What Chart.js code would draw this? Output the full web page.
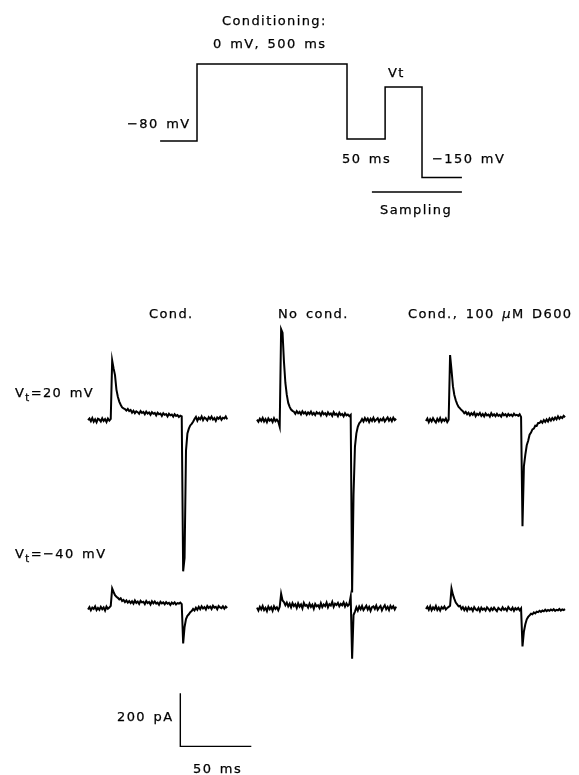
<!DOCTYPE html>
<html>
<head>
<meta charset="utf-8">
<script src="https://cdn.jsdelivr.net/npm/chart.js@4.4.0/dist/chart.umd.min.js"></script>
<style>
  body { margin: 0; background: #fff; }
  #wrap { position: relative; width: 579px; height: 775px; }
  #chart { position: absolute; left: 0; top: 0; }
  .lbl {
    position: absolute;
    font-family: "DejaVu Sans", sans-serif;
    font-size: 13px;
    letter-spacing: 1.4px;
    word-spacing: 2px;
    line-height: 1;
    color: #000;
    -webkit-text-stroke: 0.25px #000;
    white-space: nowrap;
    transform: translateY(-50%);
  }
  .lbl sub { font-size: 10px; vertical-align: -4px; line-height: 0; }
</style>
</head>
<body>
<div id="wrap">
  <canvas id="chart" width="579" height="775"></canvas>
</div>
<script>
// protocol (schematic, ms / mV)
const protoTime = [-123, 0, 0, 500, 500, 627, 627, 750, 750, 883];
const protoVolt = [-80, -80, 0, 0, -78, -78, -24, -24, -118, -118];
const samplingTime = [583, 883];
const samplingLevel = [-133, -133];

// current traces, sampled every 1 ms (pA)
const times = [];
for (let t = 0; t <= 98; t++) times.push(t);

const condTop = [
  0, 6, -4, 8, -6, 3, -8, 5, 2, -5,
  7, -3, 4, -7, 6, -2, 5, 225, 195, 170,
  115, 88, 70, 58, 48, 44, 42, 36, 42, 34,
  38, 28, 35, 26, 33, 30, 24, 34, 27, 31,
  22, 32, 25, 29, 20, 30, 24, 27, 18, 28,
  22, 25, 16, 26, 20, 23, 14, 24, 18, 21,
  13, 22, 16, 19, 12, 17, 14, -570, -520, -115,
  -50, -32, -20, -14, -6, 4, 12, -2, 9, 3,
  14, 0, 10, 6, -1, 11, 4, 13, 2, 8,
  -3, 10, 5, 12, 1, 9, 6, 14, 3
];
const noCondTop = [
  2, -6, 5, -3, 8, -5, 4, -8, 6, -2,
  3, -7, 7, -4, 2, -6, -25, 343, 330, 220,
  140, 95, 65, 50, 40, 35, 32, 24, 34, 26,
  31, 22, 33, 25, 30, 20, 29, 23, 32, 21,
  27, 19, 30, 24, 28, 18, 31, 22, 26, 17,
  29, 21, 25, 16, 30, 20, 24, 15, 28, 19,
  23, 14, 26, 18, 21, 15, 20, -650, -280, -100,
  -50, -25, -12, -6, 4, -5, 8, -2, 6, -7,
  5, -3, 9, -4, 2, 7, -6, 4, -1, 8,
  -5, 3, 10, -2, 6, -4, 9, 0, 5
];
const d600Top = [
  -3, 6, -8, 4, -5, 7, -2, -9, 5, -4,
  8, -6, 3, -3, 6, -7, 2, 245, 190, 128,
  95, 75, 60, 50, 44, 38, 34, 26, 31, 22,
  28, 18, 26, 20, 29, 15, 24, 19, 27, 16,
  23, 14, 25, 18, 21, 13, 26, 17, 22, 15,
  24, 16, 20, 13, 25, 18, 22, 14, 23, 17,
  21, 15, 24, 18, 20, 16, 22, 12, -400, -173,
  -130, -95, -78, -55, -47, -35, -32, -21, -22, -11,
  -11, -4, -10, 0, -7, 3, -5, 6, -2, 8,
  1, 10, 3, 14, 5, 12, 8, 16, 11
];
const condBot = [
  -4, 5, -7, 3, -2, 8, -6, 2, -5, 6,
  -3, 4, -8, 7, -1, 3, 10, 75, 62, 50,
  44, 40, 34, 38, 28, 32, 24, 30, 22, 28,
  20, 27, 18, 30, 21, 26, 17, 29, 23, 25,
  16, 28, 20, 24, 15, 27, 19, 26, 18, 22,
  14, 25, 19, 23, 16, 24, 18, 21, 13, 22,
  17, 23, 15, 20, 18, 22, 16, -132, -70, -40,
  -28, -22, -14, -10, -2, -8, 3, -5, 6, -3,
  8, 0, 5, -4, 9, 2, 7, -2, 10, 3,
  6, -3, 9, 4, 1, 8, -1, 7, 2
];
const noCondBot = [
  3, -8, 6, -4, 9, -6, 2, -10, 7, -3,
  5, -9, 8, -2, 4, -7, 6, 55, 30, 24,
  12, 22, 8, 18, 4, 20, 9, 16, 2, 19,
  7, 15, 0, 21, 10, 13, 3, 18, 6, 14,
  -1, 17, 8, 12, 2, 20, 5, 15, 9, 22,
  4, 16, 11, 25, 6, 18, 13, 21, 8, 17,
  12, 23, 7, 19, 10, 16, 45, -190, -25, -12,
  4, -8, 7, -3, 9, -6, 2, 10, -4, 6,
  -9, 5, 8, -2, 11, -5, 3, 9, -7, 4,
  12, -3, 6, -6, 10, 1, 8, -4, 7
];
const d600Bot = [
  -2, 6, -5, 8, -7, 4, -3, 9, -6, 3,
  -8, 5, -1, 7, -4, 2, 6, 10, 75, 52,
  36, 22, 15, 8, 10, -2, 5, -6, 3, -8,
  4, -4, 1, -9, 5, -3, -7, 2, -10, 3,
  -5, 0, -8, 4, -2, -9, 1, -6, 3, -4,
  -10, 2, -3, -7, 4, -5, 0, -8, 5, -2,
  -6, 3, -9, 1, -4, 2, -7, 0, -143, -87,
  -60, -41, -32, -26, -20, -22, -15, -19, -12, -14,
  -9, -13, -8, -11, -5, -10, -6, -9, -4, -8,
  -3, -9, -5, -7, -2, -8, -4, -6, -3
];

// scale bar: 50 ms, 200 pA
const scaleBarTime = [65, 65, 115];
const scaleBarCurrent = [-1030, -1230, -1230];

// where each trace sits in the figure (ms, pA)
const colShift = [0, 119, 238];
const rowShift = [0, -710];

function pts(xs, ys, dx = 0, dy = 0) {
  return xs.map((x, i) => ({ x: x + dx, y: ys[i] + dy }));
}

const traces = [
  [condTop, 0, 0], [noCondTop, 1, 0], [d600Top, 2, 0],
  [condBot, 0, 1], [noCondBot, 1, 1], [d600Bot, 2, 1]
];

const datasets = traces.map(([vals, c, r]) => ({
  data: pts(times, vals, colShift[c], rowShift[r]),
  borderWidth: 2
}));
datasets.push({ data: pts(scaleBarTime, scaleBarCurrent), borderWidth: 1.4 });
datasets.push({ data: pts(protoTime, protoVolt), xAxisID: 'xp', yAxisID: 'yp', borderWidth: 1.5 });
datasets.push({ data: pts(samplingTime, samplingLevel), xAxisID: 'xp', yAxisID: 'yp', borderWidth: 1.5 });
datasets.forEach(d => {
  d.showLine = true;
  d.pointRadius = 0;
  d.borderColor = '#000';
  d.tension = 0;
});

const myChart = new Chart(document.getElementById('chart').getContext('2d'), {
  type: 'scatter',
  data: { datasets },
  options: {
    responsive: false,
    animation: false,
    layout: { padding: 0 },
    plugins: { legend: { display: false }, tooltip: { enabled: false } },
    scales: {
      x: { type: 'linear', display: false, min: -62, max: 345.8 },
      y: { type: 'linear', display: false, min: -1338, max: 1584 },
      xp: { type: 'linear', display: false, min: -656.7, max: 1273.3 },
      yp: { type: 'linear', display: false, min: -738.7, max: 66.5 }
    }
  }
});

// labels as real text
const labels = [
  ['Conditioning:', 222, 20],
  ['0 mV, 500 ms', 213, 43],
  ['\u221280 mV', 127, 123],
  ['Vt', 388, 72],
  ['50 ms', 342, 158],
  ['\u2212150 mV', 432, 158],
  ['Sampling', 380, 209],
  ['Cond.', 149, 313],
  ['No cond.', 278, 313],
  ['Cond., 100 <i>\u03bc</i>M D600', 408, 313],
  ['V<sub>t</sub>=20 mV', 15, 392],
  ['V<sub>t</sub>=\u221240 mV', 15, 553],
  ['200 pA', 117, 716],
  ['50 ms', 193, 768]
];
const wrap = document.getElementById('wrap');
labels.forEach(([txt, x, y]) => {
  const el = document.createElement('div');
  el.className = 'lbl';
  el.innerHTML = txt;
  el.style.left = x + 'px';
  el.style.top = y + 'px';
  wrap.appendChild(el);
});
</script>
</body>
</html>
